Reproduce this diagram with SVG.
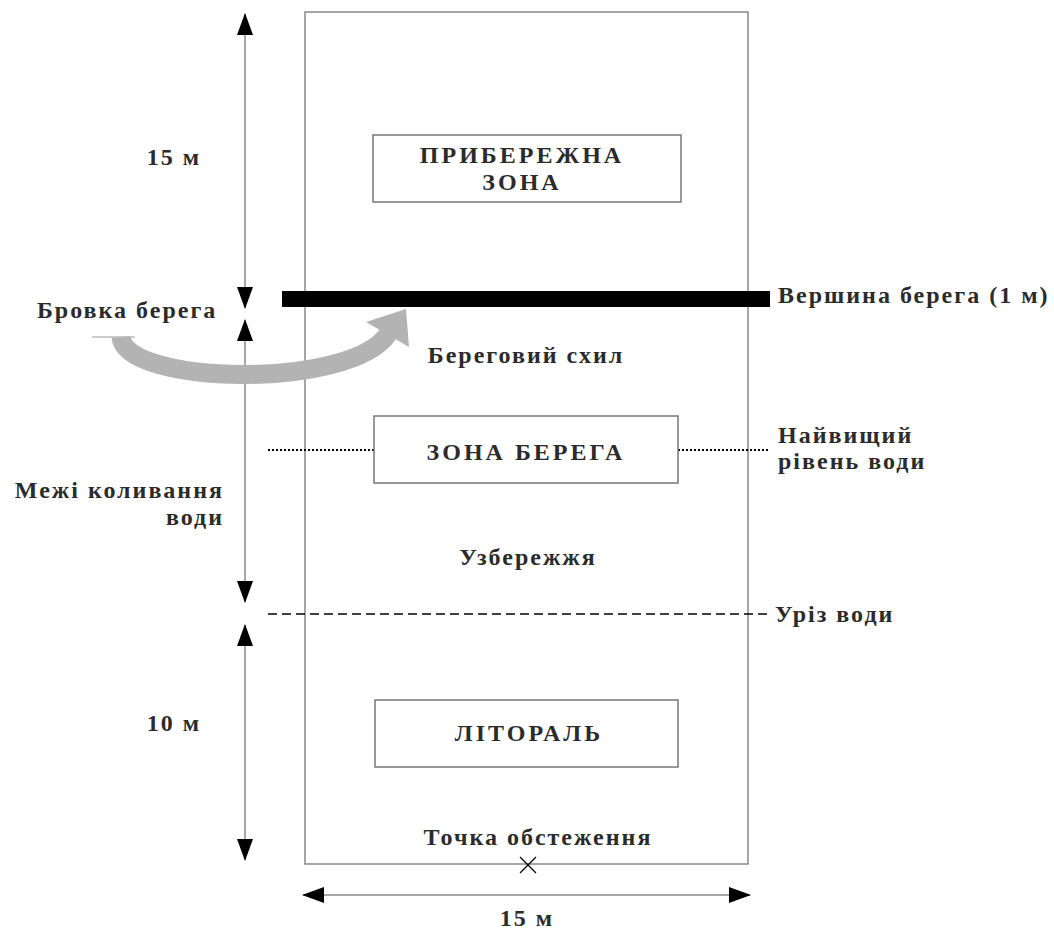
<svg xmlns="http://www.w3.org/2000/svg" width="1054" height="931" viewBox="0 0 1054 931">
<style>
text{font-family:"Liberation Serif","Times New Roman",serif;font-weight:bold;font-size:24px;letter-spacing:2px;fill:#2b2b2b}
.caps{letter-spacing:3px}
.box{fill:#fff;stroke:#777;stroke-width:1.5}
.frame{fill:none;stroke:#888;stroke-width:1.5}
.dim{stroke:#888;stroke-width:1.5;fill:none}
.mid{text-anchor:middle}
.end{text-anchor:end}
</style>
<defs>
<marker id="ah" viewBox="0 0 22 16" refX="21" refY="8" markerWidth="22" markerHeight="16" markerUnits="userSpaceOnUse" orient="auto-start-reverse">
<path d="M0,0 L22,8 L0,16 Z" fill="#000"/>
</marker>
</defs>
<rect id="frame" class="frame" x="305" y="12" width="443" height="852"/>
<g id="connectors">
<line class="dim" x1="245" y1="14" x2="245" y2="308" marker-start="url(#ah)" marker-end="url(#ah)"/>
<line class="dim" x1="245" y1="320" x2="245" y2="602" marker-start="url(#ah)" marker-end="url(#ah)"/>
<line class="dim" x1="245" y1="625" x2="245" y2="860" marker-start="url(#ah)" marker-end="url(#ah)"/>
<line class="dim" x1="303" y1="895" x2="750" y2="895" marker-start="url(#ah)" marker-end="url(#ah)"/>
<line x1="268" y1="450" x2="374" y2="450" stroke="#000" stroke-width="2" stroke-dasharray="2,2"/>
<line x1="678" y1="450" x2="770" y2="450" stroke="#000" stroke-width="2" stroke-dasharray="2,2"/>
<line x1="268" y1="614" x2="768" y2="614" stroke="#000" stroke-width="1.5" stroke-dasharray="9,5"/>
<rect x="282" y="291" width="488" height="16" fill="#000"/>
<line x1="92" y1="337" x2="135" y2="337" stroke="#bbb" stroke-width="1.5"/>
<path d="M121,337 C125,385 350,390 388,334" fill="none" stroke="#b3b3b3" stroke-width="19"/>
<path d="M366,322 L406,309 L409,347 Z" fill="#b3b3b3"/>
<path d="M520,857 L536,873 M536,857 L520,873" stroke="#000" stroke-width="1.2"/>
</g>
<g id="node-pryberezhna">
<rect class="box" x="373" y="135" width="308" height="67"/>
<text class="mid caps" x="522" y="163">ПРИБЕРЕЖНА</text>
<text class="mid caps" x="522" y="190">ЗОНА</text>
</g>
<g id="node-zona-berega">
<rect class="box" x="374" y="416" width="304" height="67"/>
<text class="mid caps" x="526" y="460">ЗОНА БЕРЕГА</text>
</g>
<g id="node-litoral">
<rect class="box" x="375" y="700" width="303" height="67"/>
<text class="mid caps" x="529" y="741">ЛІТОРАЛЬ</text>
</g>
<g id="labels">
<text class="mid" x="174" y="165">15 м</text>
<text x="37" y="318">Бровка берега</text>
<text x="778" y="303">Вершина берега (1 м)</text>
<text class="mid" x="526" y="363">Береговий схил</text>
<text x="778" y="443">Найвищий</text>
<text x="778" y="469">рівень води</text>
<text class="end" x="224" y="498">Межі коливання</text>
<text class="end" x="224" y="525">води</text>
<text class="mid" x="528" y="565">Узбережжя</text>
<text x="775" y="622">Уріз води</text>
<text class="mid" x="174" y="731">10 м</text>
<text class="mid" x="538" y="845">Точка обстеження</text>
<text class="mid" x="527" y="926">15 м</text>
</g>
</svg>
